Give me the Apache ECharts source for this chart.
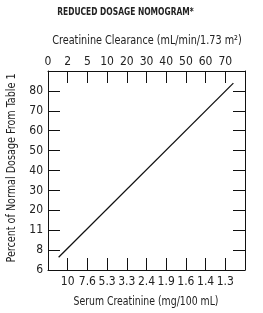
<!DOCTYPE html>
<html><head><meta charset="utf-8">
<script src="https://cdn.jsdelivr.net/npm/echarts@6/dist/echarts.min.js"></script>
<style>html,body{margin:0;padding:0;background:#fff}#c{width:263px;height:313px}</style>
</head><body><div id="c"></div>
<script>
var titleText = "REDUCED DOSAGE NOMOGRAM*";
var topAxisName = "Creatinine Clearance (mL/min/1.73 m²)";
var bottomAxisName = "Serum Creatinine (mg/100 mL)";
var leftAxisName = "Percent of Normal Dosage From Table 1";
var clearanceLabels = ["0","2","5","10","20","30","40","50","60","70",""];
var creatinineLabels = ["","10","7.6","5.3","3.3","2.4","1.9","1.6","1.4","1.3",""];
var percentLabels = ["6","8","11","20","30","40","50","60","70","80",""];
var lineX = [0.54, 9.41];
var lineY = [0.64, 9.39];

var FONT = "'Liberation Sans Narrow','DejaVu Sans Condensed',Arial,sans-serif";
var chart = echarts.init(document.getElementById('c'), null, {renderer:'canvas'});
function xAx(pos, labels, margin){
  return {type:'value', position:pos, min:0, max:10, interval:1,
    axisLine:{show:true, onZero:false, lineStyle:{color:'#111', width:1}},
    axisTick:{show:true, inside:true, length:12, lineStyle:{color:'#111', width:1}},
    axisLabel:{show:true, margin:margin, fontFamily:FONT, fontSize:12, color:'#222',
      formatter:function(v){return labels[Math.round(v)]||'';}},
    splitLine:{show:false}};
}
function yAx(pos, showLabel){
  return {type:'value', position:pos, min:0, max:10, interval:1,
    axisLine:{show:true, onZero:false, lineStyle:{color:'#111', width:1}},
    axisTick:{show:true, inside:true, length:12, lineStyle:{color:'#111', width:1}},
    axisLabel:{show:showLabel, margin:5, fontFamily:FONT, fontSize:12, color:'#222',
      formatter:function(v){return percentLabels[Math.round(v)]||'';}},
    splitLine:{show:false}};
}
function txt(text, x, y, size, sx, bold, rot){
  return {type:'text', x:x, y:y, scaleX:sx, rotation:rot||0, silent:true,
    style:{text:text, x:0, y:0, textAlign:'center', textVerticalAlign:'middle',
      font:(bold?'bold ':'')+size+'px '+FONT, fill:'#222'}};
}
var lineData = lineX.map(function(x,i){return [x, lineY[i]];});
chart.setOption({
  animation:false,
  backgroundColor:'#fff',
  grid:{left:48, top:71, width:197, height:199},
  xAxis:[xAx('top', clearanceLabels, 3), xAx('bottom', creatinineLabels, 6)],
  yAxis:[yAx('left', true), yAx('right', false)],
  graphic:[
    txt(titleText, 125.5, 12, 11, 0.76, true),
    txt(topAxisName, 147, 41, 12.5, 0.86, false),
    txt(bottomAxisName, 146, 301.5, 12.5, 0.83, false),
    txt(leftAxisName, 12, 168, 12, 0.89, false, Math.PI/2)
  ],
  series:[{type:'line', data:lineData, xAxisIndex:1, yAxisIndex:0, showSymbol:false,
    lineStyle:{color:'#111', width:1.3}}]
});
</script></body></html>
